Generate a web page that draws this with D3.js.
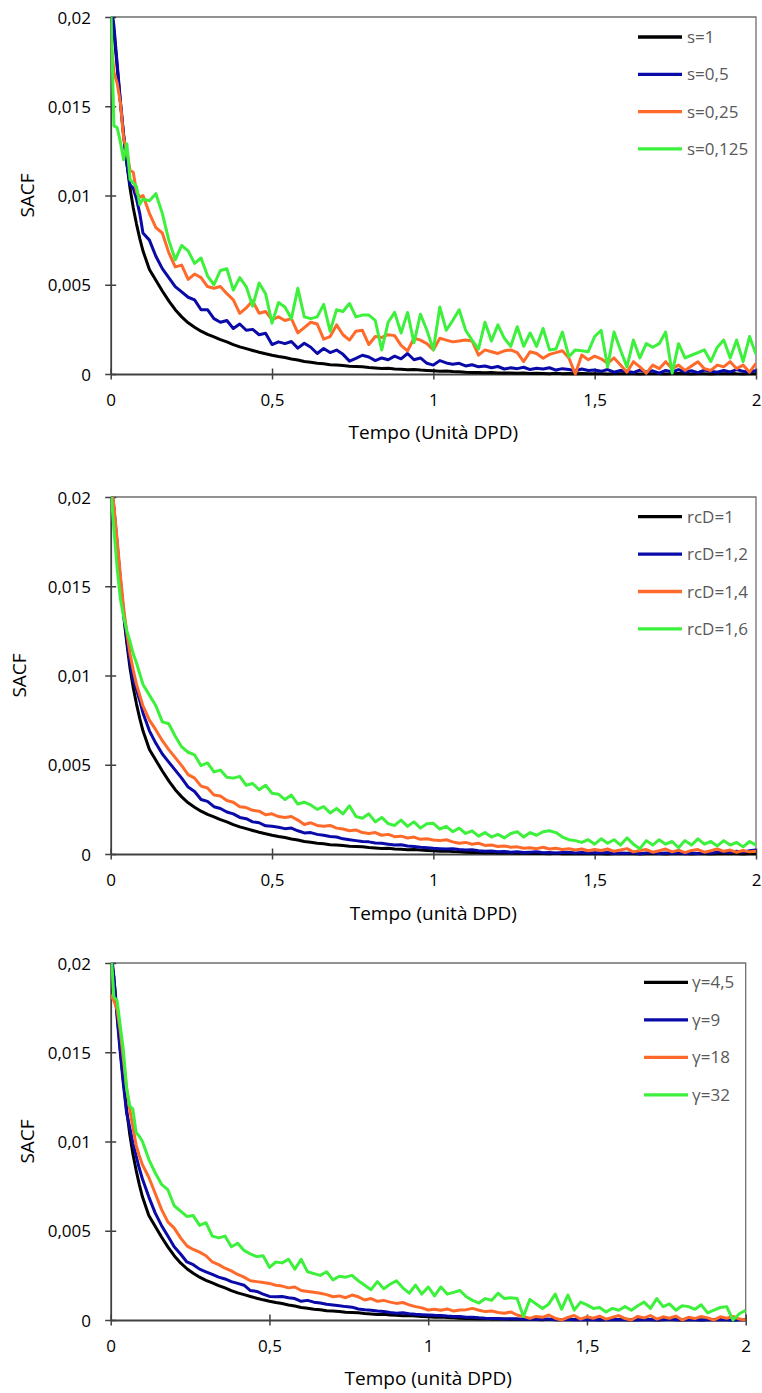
<!DOCTYPE html>
<html><head><meta charset="utf-8">
<script src="https://cdn.jsdelivr.net/npm/d3@7"></script>
<style>body{margin:0;background:#fff}svg{display:block}</style>
</head><body>
<svg id="c" width="762" height="1393"></svg>
<script>
// ---------- DATA (SACF values are in units of 1e-3) ----------
const yUnit = 1e-3;
const times = [0,0.01,0.02,0.03,0.04,0.05,0.06,0.07,0.08,0.09,0.1,
0.12,0.14,0.16,0.18,0.2,0.22,0.24,0.26,0.28,0.3,0.32,0.34,0.36,0.38,0.4,0.42,0.44,0.46,0.48,0.5,
0.52,0.54,0.56,0.58,0.6,0.62,0.64,0.66,0.68,0.7,0.72,0.74,0.76,0.78,0.8,0.82,0.84,0.86,0.88,0.9,0.92,0.94,0.96,0.98,1,
1.02,1.04,1.06,1.08,1.1,1.12,1.14,1.16,1.18,1.2,1.22,1.24,1.26,1.28,1.3,1.32,1.34,1.36,1.38,1.4,1.42,1.44,1.46,1.48,1.5,
1.52,1.54,1.56,1.58,1.6,1.62,1.64,1.66,1.68,1.7,1.72,1.74,1.76,1.78,1.8,1.82,1.84,1.86,1.88,1.9,1.92,1.94,1.96,1.98,2];

const xTicks = [0, 0.5, 1, 1.5, 2];
const yTicks = [0, 0.005, 0.01, 0.015, 0.02];

// Reference (black) curve: s=1 / rcD=1 / gamma=4,5
const sacfBase = [20.5,19.2,17.2,15.2,13.4,11.8,10.4,9.3,8.4,7.6,6.9,
5.85,5.25,4.65,4.1,3.6,3.2,2.87,2.62,2.4,2.22,2.08,1.93,1.8,1.65,1.52,1.42,1.32,1.22,1.13,1.05,
0.98,0.92,0.84,0.78,0.7,0.66,0.6,0.57,0.52,0.5,0.47,0.44,0.42,0.4,0.36,0.34,0.31,0.32,0.28,0.26,0.24,0.25,0.22,0.2,0.18,
0.16,0.17,0.14,0.12,0.1,0.09,0.08,0.07,0.08,0.06,0.05,0.06,0.04,0.05,0.03,0.04,0.03,0.02,0.04,0.02,0.03,0.01,0.03,0.02,0.01,
0.02,0,0.02,0.01,0.03,0.01,0,0.02,0.01,0.02,0,0.01,0.03,0.01,0,0.02,0.01,0,0.02,0.01,0.03,0.01,0,0.02,0.01];

// Panel 1: s
const labelsS = ["s=1", "s=0,5", "s=0,25", "s=0,125"];
const sacfS05 = [21,19.5,17.4,15.3,13.4,11.8,10.6,10.4,9.8,9.0,7.9,
7.5,6.6,5.9,5.4,4.9,4.6,4.3,4.15,3.6,3.6,3.1,2.9,3.0,2.55,2.8,2.45,2.5,2.2,2.28,1.65,
1.8,1.7,1.82,1.45,1.72,1.5,1.15,1.43,1.2,1.34,1.1,0.72,0.88,1.05,0.95,0.75,0.9,0.8,1.0,0.85,1.15,0.8,0.9,0.6,0.5,
0.75,0.62,0.55,0.6,0.45,0.52,0.4,0.45,0.35,0.42,0.28,0.35,0.3,0.38,0.25,0.32,0.28,0.35,0.22,0.3,0.25,0.18,0.28,0.2,0.22,
0.15,0.25,0.1,0.2,0.15,0.08,0.22,0.12,0.18,0.05,0.2,0.12,0.25,0.1,0.18,0.08,0.22,0.15,0.1,0.2,0.12,0.25,0.15,0.1,0.2];
const sacfS025 = [18.8,16.9,16.3,15.2,13.2,12.5,11.4,11.3,10.2,9.9,10.0,
9.0,8.2,7.9,6.8,6.0,6.1,5.3,5.6,5.4,4.9,4.8,4.9,4.5,4.15,3.4,3.7,4.1,3.4,3.5,3.05,
3.2,3.0,3.1,2.3,2.6,2.9,2.8,1.95,2.1,2.75,2.2,1.9,2.4,2.45,1.65,2.1,2.05,2.2,2.15,1.6,1.3,2.0,1.9,1.7,1.35,
2.0,1.9,1.8,1.85,1.9,1.85,1.06,1.35,1.25,1.15,1.3,1.35,1.2,0.7,1.25,1.15,0.88,1.1,1.2,1.3,0.9,0,1.06,0.8,1.0,
0.85,0.6,0.9,0.5,0.1,0.69,0.4,0.05,0.5,0.3,0.69,0.3,0.5,0.2,0.45,0.69,0.3,0.2,0.5,0.4,0.69,0.3,0.5,0.1,0.6];
const sacfS0125 = [21,13.9,13.8,13.0,12.0,12.9,10.9,10.7,10.5,9.5,9.8,
9.7,10.1,9.0,7.5,6.4,7.2,6.9,6.2,6.5,5.5,5.0,5.8,5.9,4.7,5.4,4.9,3.8,5.1,4.5,2.85,
4.0,3.75,3.1,4.8,3.2,3.1,3.2,3.9,2.4,3.6,3.5,3.95,3.2,3.3,3.3,3.0,1.35,2.9,3.45,2.3,3.45,1.75,3.35,2.45,1.35,
3.75,2.45,3.0,3.6,2.45,1.9,1.4,2.9,1.85,2.75,2.0,1.55,2.65,1.55,2.3,1.55,2.55,1.35,1.4,2.35,0.97,1.35,1.3,1.25,2.1,
2.45,0.4,2.35,1.35,0.4,1.9,0.9,1.7,1.5,1.7,2.35,0.05,1.7,0.9,1.05,1.2,1.35,0.7,1.5,1.9,0.9,1.9,0.7,2.1,1.1];

// Panel 2: rcD
const labelsR = ["rcD=1", "rcD=1,2", "rcD=1,4", "rcD=1,6"];
const sacfR12 = [21,19.4,17.4,15.4,13.5,12.0,10.7,9.7,9.2,8.6,7.9,
6.9,6.2,5.6,5.15,4.7,4.25,3.75,3.5,3.05,2.95,2.65,2.55,2.35,2.25,2.05,1.98,1.8,1.75,1.58,1.55,
1.5,1.42,1.45,1.3,1.18,1.2,1.1,1.05,0.98,0.95,0.85,0.8,0.75,0.7,0.68,0.62,0.6,0.55,0.5,0.52,0.45,0.42,0.38,0.35,0.32,
0.3,0.28,0.3,0.25,0.22,0.24,0.18,0.15,0.17,0.12,0.14,0.1,0.12,0.08,0.1,0.12,0.07,0.09,0.05,0.08,0.1,0.06,0.08,0.05,0.07,
0.05,0.08,0.03,0.06,0.04,0.07,0.02,0.05,0.08,0.03,0.06,0.04,0.07,0.02,0.05,0.03,0.08,0.05,0.1,0.12,0.08,0.15,0.1,0.18,0.22];
const sacfR14 = [21,19.5,17.6,15.6,13.8,12.4,11.2,10.3,9.5,8.9,8.3,
7.5,6.95,6.35,5.85,5.4,4.95,4.45,4.25,3.8,3.7,3.3,3.25,3.0,2.9,2.65,2.6,2.45,2.4,2.2,2.25,
2.1,2.05,2.1,1.9,1.65,1.75,1.6,1.55,1.6,1.45,1.4,1.3,1.35,1.2,1.15,1.2,1.05,1.1,0.97,1.0,0.9,0.95,0.82,0.85,0.78,
0.75,0.8,0.68,0.6,0.65,0.55,0.6,0.48,0.5,0.42,0.45,0.38,0.4,0.32,0.35,0.3,0.38,0.28,0.32,0.25,0.3,0.22,0.28,0.18,0.25,
0.2,0.28,0.15,0.22,0.3,0.12,0.2,0.25,0.1,0.18,0.28,0.12,0.22,0.08,0.2,0.25,0.1,0.18,0.28,0.15,0.22,0.1,0.2,0.12,0.15];
const sacfR16 = [20.5,18.2,16.0,14.3,13.3,12.5,11.9,11.2,10.7,10.1,9.5,
8.9,8.3,7.4,7.3,6.6,6.0,5.7,5.55,4.95,5.1,4.6,4.7,4.3,4.25,4.35,3.85,3.95,3.6,3.85,3.4,
3.35,3.05,3.3,2.8,2.9,2.75,2.5,2.65,2.3,2.55,2.25,2.7,2.1,2.0,2.25,1.8,2.05,1.7,1.6,1.9,1.55,1.8,1.45,1.7,1.72,
1.4,1.55,1.25,1.45,1.15,1.3,1.0,1.2,0.95,1.1,0.9,1.15,1.25,0.95,1.2,1.05,1.25,1.3,1.2,0.95,0.8,0.75,0.65,0.8,0.55,
0.85,0.6,0.8,0.5,0.9,0.55,0.3,0.75,0.5,0.8,0.55,0.7,0.35,0.75,0.5,0.85,0.55,0.7,0.45,0.75,0.5,0.65,0.4,0.7,0.5];

// Panel 3: gamma
const labelsG = ["γ=4,5", "γ=9", "γ=18", "γ=32"];
const sacfG9 = [21,19.2,17.0,15.0,13.2,11.6,10.8,9.9,9.2,8.5,7.9,
6.9,6.0,5.3,4.7,4.1,3.7,3.25,3.1,2.85,2.7,2.55,2.4,2.3,2.15,2.05,1.95,1.65,1.6,1.45,1.32,
1.3,1.32,1.25,1.2,1.05,1.1,1.0,0.95,0.88,0.84,0.8,0.75,0.72,0.62,0.58,0.55,0.5,0.48,0.42,0.38,0.4,0.35,0.32,0.3,0.28,
0.26,0.25,0.22,0.2,0.19,0.16,0.15,0.12,0.1,0.09,0.08,0.06,0.07,0.05,0.04,0.06,0.03,0.05,0.04,0.03,0.02,0.04,0.02,0.03,0.02,
0.02,0.03,0.01,0.02,0.03,0.01,0.02,0,0.02,0.03,0.01,0.02,0.04,0.02,0.01,0.03,0.02,0,0.02,0.03,0.01,0.02,0,0.02,0.01];
const sacfG18 = [18.2,17.9,17.4,16.2,14.6,13.0,11.8,10.8,9.8,9.2,8.7,
8.0,7.1,6.2,5.5,5.15,4.6,4.15,3.95,3.8,3.6,3.25,3.1,2.9,2.75,2.55,2.4,2.2,2.15,2.1,2.05,
1.95,1.9,1.8,1.85,1.65,1.6,1.55,1.5,1.42,1.3,1.35,1.25,1.4,1.3,1.12,1.2,1.05,1.1,1.0,0.93,0.98,0.85,0.75,0.68,0.56,
0.6,0.55,0.62,0.5,0.56,0.58,0.65,0.55,0.47,0.5,0.42,0.38,0.45,0.28,0.2,0.09,0.2,0.15,0.28,0.1,0,0.15,0.25,0.05,0.18,
0.1,0.22,0.05,0.15,0.25,0.08,0,0.2,0.12,0.25,0.05,0.18,0.1,0.22,0,0.15,0.08,0.2,0.12,0,0.18,0.1,0.2,0.05,0];
const sacfG32 = [21,18.1,17.9,16.5,15.1,13.0,12.0,11.8,10.5,10.3,10.0,
9.0,8.25,7.6,7.3,6.4,6.1,5.8,5.85,5.3,5.45,4.7,4.6,4.7,4.1,4.3,3.9,3.7,3.55,3.6,2.95,
3.25,3.2,3.4,2.85,3.4,2.7,2.6,2.5,2.7,2.25,2.45,2.4,2.5,2.2,1.95,1.7,2.15,1.75,2.0,2.2,1.8,1.5,1.95,1.45,1.85,
1.35,1.85,1.45,1.55,1.65,1.3,1.1,0.95,1.2,1.1,1.5,1.2,1.25,1.2,0.2,1.15,0.9,0.65,0.9,1.45,0.6,1.4,0.55,1.0,0.85,
0.65,0.7,0.45,0.65,0.55,0.75,0.55,0.8,1.0,0.65,1.2,0.75,0.9,0.55,0.8,0.75,0.6,0.85,0.4,0.55,0.7,0.75,0,0.35,0.55];

const seriesColors = ["#000000", "#0A0AA8", "#FF6A2B", "#3CF03C"];

// ---------- LAYOUT ----------
const panels = [
  {labels: labelsS, series: [sacfBase, sacfS05, sacfS025, sacfS0125], xTitle: "Tempo (Unità DPD)",
   box: {l: 110.7, r: 756, t: 17, b: 374}, yTitleX: 27, xTitleDy: 58,
   legend: {x1: 638, x2: 682, tx: 687, y0: 37, dy: 37.3}},
  {labels: labelsR, series: [sacfBase, sacfR12, sacfR14, sacfR16], xTitle: "Tempo (unità DPD)",
   box: {l: 110.7, r: 756, t: 497, b: 854}, yTitleX: 19, xTitleDy: 59,
   legend: {x1: 638, x2: 682, tx: 687, y0: 516.7, dy: 37.4}},
  {labels: labelsG, series: [sacfBase, sacfG9, sacfG18, sacfG32], xTitle: "Tempo (unità DPD)",
   box: {l: 110.7, r: 745.7, t: 963, b: 1320}, yTitleX: 27, xTitleDy: 58,
   legend: {x1: 644, x2: 688, tx: 692, y0: 982.3, dy: 37.5}}
];

const FONT = "'Open Sans', 'DejaVu Sans', sans-serif";
const itLocale = d3.formatLocale({decimal: ",", thousands: ".", grouping: [3], currency: ["", " €"]});
const fmt = itLocale.format("~g");

const svg = d3.select("#c");
svg.append("rect").attr("width", 762).attr("height", 1393).attr("fill", "#fff");

panels.forEach((p, i) => {
  p.series.forEach(s => { if (s.length !== times.length) throw new Error("length mismatch panel " + i + ": " + s.length); });
  const b = p.box;
  const x = d3.scaleLinear().domain([0, 2]).range([b.l, b.r]);
  const y = d3.scaleLinear().domain([0, 0.02]).range([b.b, b.t]);
  const g = svg.append("g");

  // plot-area border (top & right)
  g.append("path").attr("d", `M${b.l},${b.t}H${b.r}V${b.b}`)
    .attr("fill", "none").attr("stroke", "#6f6f6f").attr("stroke-width", 1.3);

  // y axis
  const ya = g.append("g").attr("transform", `translate(${b.l},0)`)
    .call(d3.axisLeft(y).tickValues(yTicks).tickFormat(fmt).tickSize(5.5).tickSizeOuter(0));
  ya.select(".domain").attr("stroke", "#404040").attr("stroke-width", 1.8);
  ya.selectAll(".tick line").attr("x1", -5.5).attr("x2", 5.5).attr("stroke", "#404040").attr("stroke-width", 1.5);
  ya.selectAll(".tick text").attr("x", -19.7).attr("dy", "0.36em")
    .style("font-family", FONT).style("font-size", "17px").attr("fill", "#000");

  // x axis
  const xa = g.append("g").attr("transform", `translate(0,${b.b})`)
    .call(d3.axisBottom(x).tickValues(xTicks).tickFormat(fmt).tickSize(5.5).tickSizeOuter(0));
  xa.select(".domain").attr("stroke", "#404040").attr("stroke-width", 1.8);
  xa.selectAll(".tick line").attr("y1", -5.5).attr("y2", 5.5).attr("stroke", "#404040").attr("stroke-width", 1.5);
  xa.selectAll(".tick text").attr("y", 26).attr("dy", "0.36em")
    .style("font-family", FONT).style("font-size", "17px").attr("fill", "#000");

  // titles
  g.append("text").attr("x", (b.l + b.r) / 2).attr("y", b.b + p.xTitleDy).attr("dy", "0.36em")
    .attr("text-anchor", "middle").style("font-family", FONT).style("font-size", "19px").attr("fill", "#000")
    .text(p.xTitle);
  g.append("text").attr("transform", `translate(${p.yTitleX},${(b.t + b.b) / 2}) rotate(-90)`)
    .attr("dy", "0.36em").attr("text-anchor", "middle")
    .style("font-family", FONT).style("font-size", "19px").attr("fill", "#000").text("SACF");

  // clip
  const cid = "clip" + i;
  svg.append("clipPath").attr("id", cid).append("rect")
    .attr("x", b.l).attr("y", b.t).attr("width", b.r - b.l).attr("height", b.b - b.t + 2);

  const line = d3.line().x((d, k) => x(times[k])).y(d => y(d * yUnit));
  const lg = g.append("g").attr("clip-path", `url(#${cid})`);
  p.series.forEach((s, k) => {
    lg.append("path").datum(s).attr("d", line)
      .attr("fill", "none").attr("stroke", seriesColors[k]).attr("stroke-width", 3)
      .attr("stroke-linejoin", "round");
  });

  // legend
  const L = p.legend;
  p.labels.forEach((lab, k) => {
    const yy = L.y0 + k * L.dy;
    g.append("line").attr("x1", L.x1).attr("x2", L.x2).attr("y1", yy).attr("y2", yy)
      .attr("stroke", seriesColors[k]).attr("stroke-width", 3.3);
    g.append("text").attr("x", L.tx).attr("y", yy).attr("dy", "0.36em")
      .style("font-family", FONT).style("font-size", "17px").attr("fill", "#595959").text(lab);
  });
});
</script>
</body></html>
